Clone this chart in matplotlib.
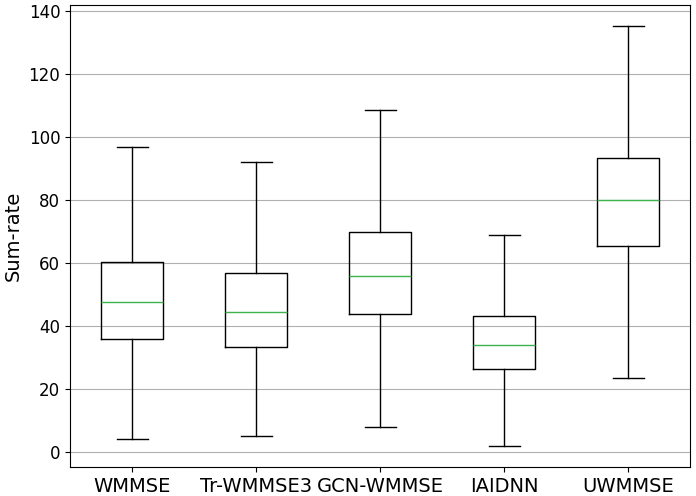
import matplotlib
matplotlib.use("Agg")
import matplotlib.pyplot as plt

# Sum-rate distribution per method
methods = ["WMMSE", "Tr-WMMSE3", "GCN-WMMSE", "IAIDNN", "UWMMSE"]
whislo = [4.1, 5.1, 7.9, 1.9, 23.5]
q1 = [35.9, 33.3, 43.8, 26.3, 65.4]
med = [47.6, 44.4, 55.9, 34.0, 80.0]
q3 = [60.3, 56.8, 69.8, 43.2, 93.3]
whishi = [96.8, 92.1, 108.6, 68.9, 135.2]

stats = []
for i in range(len(methods)):
    stats.append({"label": methods[i], "whislo": whislo[i], "q1": q1[i],
                  "med": med[i], "q3": q3[i], "whishi": whishi[i], "fliers": []})

fig = plt.figure(figsize=(6.96, 4.96), dpi=100)
ax = fig.add_axes([0.1006, 0.0585, 0.8908, 0.9314])
ax.bxp(stats, showfliers=False,
       medianprops=dict(color="#3cb44b", linewidth=1))
ax.yaxis.grid(True, color="#b0b0b0")
ax.set_axisbelow(True)
ax.set_ylabel("Sum-rate", fontsize=14)
ax.tick_params(axis="both", labelsize=12)
ax.tick_params(axis="x", labelsize=14)
ax.set_yticks(range(0, 141, 20))

fig.savefig("out.png", dpi=100)
